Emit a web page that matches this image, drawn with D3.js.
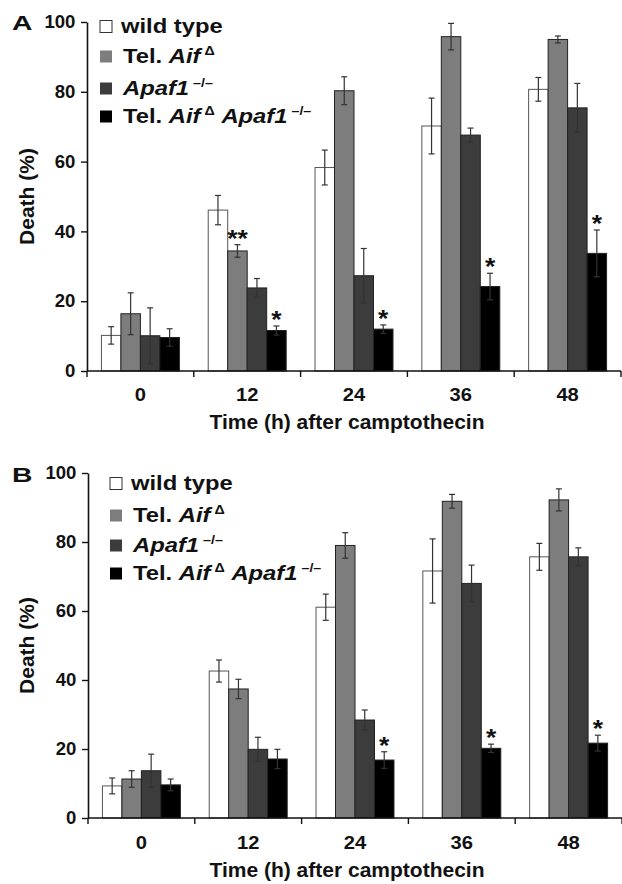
<!DOCTYPE html>
<html>
<head>
<meta charset="utf-8">
<script src="https://cdn.jsdelivr.net/npm/d3@7/dist/d3.min.js"></script>
<style>
  body { margin: 0; background: #fff; }
  text { font-family: "Liberation Sans", Arial, sans-serif; font-weight: bold; fill: #111; }
</style>
</head>
<body>
<div id="chart-area"></div>
<script>
// Cell death after camptothecin, two panels (A, B)

var times = ["0", "12", "24", "36", "48"];
var series = ["wt", "aif", "apaf", "double"];
var seriesFill = ["#ffffff", "#7d7d7d", "#3c3c3c", "#000000"];
var yTicks = [0, 20, 40, 60, 80, 100];

// Panel A values (rows = series, columns = times)
var valuesA = [
    [10.2, 46.1, 58.3, 70.2, 80.7],
    [16.4, 34.4, 80.3, 95.8, 95.0],
    [10.1, 23.8, 27.3, 67.6, 75.4],
    [9.6, 11.6, 12.0, 24.2, 33.7]
];
var errorsA = [
    [2.5, 4.2, 5.0, 8.0, 3.4],
    [6.0, 1.8, 4.0, 3.8, 1.0],
    [8.0, 2.7, 7.8, 2.0, 7.0],
    [2.5, 1.3, 1.2, 3.8, 6.7]
];
var starsA = [
    ["", "", "", "", ""],
    ["", "**", "", "", ""],
    ["", "", "", "", ""],
    ["", "*", "*", "*", "*"]
];

// Panel B values
var valuesB = [
    [9.3, 42.6, 61.1, 71.6, 75.7],
    [11.3, 37.4, 79.0, 91.8, 92.2],
    [13.7, 19.9, 28.4, 68.0, 75.7],
    [9.6, 17.1, 16.8, 20.2, 21.7]
];
var errorsB = [
    [2.3, 3.2, 3.8, 9.3, 3.9],
    [2.4, 2.8, 3.7, 2.0, 3.2],
    [4.8, 3.5, 2.9, 5.3, 2.6],
    [1.7, 2.8, 2.4, 1.2, 2.3]
];
var starsB = [
    ["", "", "", "", ""],
    ["", "", "", "", ""],
    ["", "", "", "", ""],
    ["", "", "*", "*", "*"]
];

// Legend labels: pieces are [text, style] with style "", "i" (italic) or "sup"
var legendLabels = [
    [["wild type", ""]],
    [["Tel. ", ""], ["Aif", "i"], [" \u0394", "sup"]],
    [["Apaf1", "i"], [" \u2013/\u2013", "sup"]],
    [["Tel. ", ""], ["Aif", "i"], [" \u0394", "sup"], [" ", ""], ["Apaf1", "i"], [" \u2013/\u2013", "sup"]]
];

var width = 622, height = 884;

var svg = d3.select("#chart-area")
    .append("svg")
        .attr("width", width)
        .attr("height", height);

// text that is a bit wider than the font (the figure type is stretched)
function wideText(parent, x, y, sx, size, anchor) {
    return parent.append("g")
        .attr("transform", "translate(" + x + "," + y + ") scale(" + sx + ",1)")
      .append("text")
        .attr("text-anchor", anchor || "start")
        .attr("font-size", size + "px");
}

var panels = [
    { letter: "A", values: valuesA, errors: errorsA, stars: starsA,
      top: 22, bottom: 371, left: 87, right: 621,
      letterY: 30, legendX: 100, legendY: [33, 63, 95, 123],
      tickLabelY: 401, titleY: 429 },
    { letter: "B", values: valuesB, errors: errorsB, stars: starsB,
      top: 473, bottom: 818, left: 88, right: 622,
      letterY: 482, legendX: 110, legendY: [490, 522, 552, 580],
      tickLabelY: 849, titleY: 877 }
];

panels.forEach(function(p) {
    var g = svg.append("g");

    var y = d3.scaleLinear().domain([0, 100]).range([p.bottom, p.top]);
    var x0 = d3.scaleBand().domain(times).range([p.left, p.right]).padding(0);
    var x1 = d3.scaleBand().domain(series).range([0, x0.bandwidth()])
        .paddingInner(0).paddingOuter(0.74);

    // bars
    series.forEach(function(s, si) {
        var grp = g.append("g");
        grp.selectAll("rect")
            .data(times)
            .enter()
            .append("rect")
                .attr("x", function(t) { return x0(t) + x1(s); })
                .attr("y", function(t, i) { return y(p.values[si][i]); })
                .attr("width", x1.bandwidth())
                .attr("height", function(t, i) { return y(0) - y(p.values[si][i]); })
                .attr("fill", seriesFill[si])
                .attr("stroke", si === 0 ? "#555" : "#222")
                .attr("stroke-width", 1);

        // error bars
        times.forEach(function(t, i) {
            var cx = x0(t) + x1(s) + x1.bandwidth() / 2;
            var v = p.values[si][i], e = p.errors[si][i];
            grp.append("line")
                .attr("x1", cx).attr("x2", cx)
                .attr("y1", y(v - e)).attr("y2", y(v + e))
                .attr("stroke", "#333").attr("stroke-width", 1.2);
            [v - e, v + e].forEach(function(ev) {
                grp.append("line")
                    .attr("x1", cx - 3).attr("x2", cx + 3)
                    .attr("y1", y(ev)).attr("y2", y(ev))
                    .attr("stroke", "#333").attr("stroke-width", 1.2);
            });
            var star = p.stars[si][i];
            if (star) {
                wideText(grp, cx, y(v + e) + 2, 1.15, 23, "middle").text(star);
            }
        });
    });

    // Y axis
    var yAxisCall = d3.axisLeft(y).tickValues(yTicks).tickSize(6).tickSizeOuter(0).tickPadding(5);
    var ya = g.append("g")
        .attr("transform", "translate(" + p.left + ",0)")
        .call(yAxisCall);
    ya.select(".domain").attr("stroke", "#111").attr("stroke-width", 1.6);
    ya.selectAll(".tick line").attr("stroke", "#111").attr("stroke-width", 1.4);
    ya.selectAll(".tick text")
        .attr("font-family", "Liberation Sans, Arial, sans-serif")
        .attr("font-weight", "bold")
        .attr("font-size", "17.5px")
        .attr("fill", "#111")
        .attr("transform", "scale(1.06,1)");

    // X axis: ticks at band boundaries
    var xa = g.append("g").attr("class", "x axis");
    xa.append("line")
        .attr("x1", p.left).attr("x2", p.right)
        .attr("y1", p.bottom).attr("y2", p.bottom)
        .attr("stroke", "#111").attr("stroke-width", 1.6);
    var bounds = times.map(function(t) { return x0(t); }).concat([p.right]);
    xa.selectAll("line.tk")
        .data(bounds)
        .enter()
        .append("line")
            .attr("class", "tk")
            .attr("x1", function(d) { return d; })
            .attr("x2", function(d) { return d; })
            .attr("y1", p.bottom)
            .attr("y2", p.bottom + 6)
            .attr("stroke", "#111").attr("stroke-width", 1.4);
    times.forEach(function(t) {
        wideText(xa, x0(t) + x0.bandwidth() / 2, p.tickLabelY, 1.12, 18, "middle").text(t);
    });

    // X Label
    g.append("text")
        .attr("x", 347)
        .attr("y", p.titleY)
        .attr("text-anchor", "middle")
        .attr("font-size", "21px")
        .text("Time (h) after camptothecin");

    // Y Label
    g.append("text")
        .attr("transform", "translate(34," + ((p.top + p.bottom) / 2) + ") rotate(-90)")
        .attr("text-anchor", "middle")
        .attr("font-size", "21px")
        .text("Death (%)");

    // panel letter
    wideText(g, 12, p.letterY, 1.35, 21).text(p.letter);

    // legend
    legendLabels.forEach(function(parts, li) {
        var ly = p.legendY[li];
        g.append("rect")
            .attr("x", p.legendX)
            .attr("y", ly - 12.5)
            .attr("width", 12)
            .attr("height", 12)
            .attr("fill", seriesFill[li])
            .attr("stroke", li === 0 ? "#333" : "none");
        var txt = wideText(g, p.legendX + 23 - (li === 0 ? 2 : 0), ly, 1.19, 20);
        var raised = false;
        parts.forEach(function(part) {
            var ts = txt.append("tspan").text(part[0]);
            if (part[1] === "i") ts.attr("font-style", "italic");
            if (part[1] === "sup") {
                ts.attr("font-size", "12px").attr("dy", -8);
                raised = true;
            } else if (raised) {
                ts.attr("dy", 8);
                raised = false;
            }
        });
    });
});
</script>
</body>
</html>
